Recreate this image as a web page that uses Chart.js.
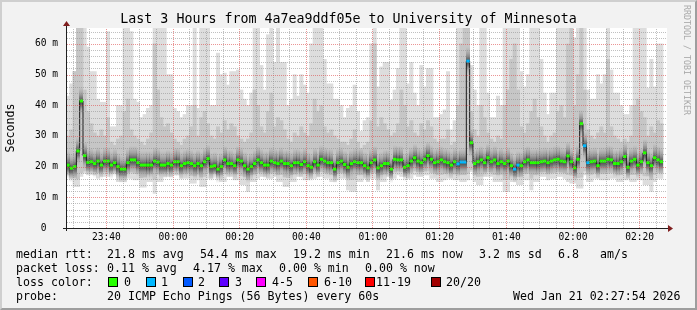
<!DOCTYPE html>
<html>
<head>
<meta charset="utf-8">
<title>Smokeping - Last 3 Hours</title>
<script src="https://cdn.jsdelivr.net/npm/chart.js@4.4.1/dist/chart.umd.min.js"></script>
<style>
  html, body { margin: 0; padding: 0; background: #f2f2f2; }
  #wrap { position: relative; width: 697px; height: 310px; overflow: hidden; font-family: 'DejaVu Sans Mono', monospace; color: #000; }
  #wrap canvas { position: absolute; left: 0; top: 0; }
  #title { position: absolute; left: 0; top: 11px; width: 697px; text-align: center; font-size: 13.3px; line-height: 16px; white-space: pre; }
  #credit { position: absolute; left: 692px; top: 5px; font-size: 8.3px; line-height: 10px; color: #a8a8a8; white-space: pre; transform-origin: 0 0; transform: rotate(90deg); }
  .txt { position: absolute; font-size: 11.6px; line-height: 14px; white-space: pre; }
  .sw { position: absolute; width: 8px; height: 8px; border: 1px solid #000; }
  #frame { position: absolute; left: 0; top: 0; width: 697px; height: 310px; box-sizing: border-box; border: 2px solid; border-color: #cfcfcf #9e9e9e #9e9e9e #cfcfcf; pointer-events: none; }
</style>
</head>
<body>
<div id="wrap">
  <canvas id="smokeChart" width="697" height="310"></canvas>
  <div id="title">Last 3 Hours from 4a7ea9ddf05e to University of Minnesota</div>
  <div id="credit">RRDTOOL / TOBI OETIKER</div>
  <div id="legend"></div>
  <div id="frame"></div>
</div>
<script>
// time axis in minutes relative to midnight (negative = previous day)
const windowStart = -32.1;   // 23:27:54
const windowEnd = 147.9;     // 02:27:54
const firstSample = -32;     // first 60 s sample starts 23:28

// median rtt per minute (ms)
const median = [
  20.5, 19.5, 20.0, 25.1, 41.4, 23.6, 21.4, 21.6, 21.0, 21.8,
  20.5, 21.8, 21.8, 20.5, 21.3, 20.0, 19.2, 19.2, 21.3, 22.2,
  22.2, 21.3, 20.5, 20.5, 20.5, 20.5, 21.8, 21.5, 20.5, 20.5,
  21.0, 20.5, 21.6, 21.6, 20.3, 21.0, 21.3, 21.0, 20.3, 21.0,
  20.3, 21.6, 22.6, 20.0, 20.3, 19.2, 20.0, 22.2, 21.0, 21.0,
  20.3, 22.2, 21.8, 20.3, 19.2, 20.0, 21.0, 22.2, 21.3, 20.5,
  20.5, 21.8, 21.3, 21.0, 21.8, 21.0, 21.0, 20.3, 21.3, 21.3,
  20.7, 21.6, 20.3, 19.8, 21.6, 20.5, 22.4, 21.8, 21.3, 21.3,
  19.2, 21.3, 21.8, 20.7, 19.8, 21.0, 21.6, 21.3, 21.3, 20.3,
  19.6, 21.3, 22.2, 19.6, 20.3, 21.0, 21.0, 19.2, 22.4, 22.2,
  22.2, 19.8, 20.3, 21.8, 22.9, 21.8, 21.3, 22.4, 23.6, 22.4,
  21.3, 21.6, 22.2, 21.6, 21.3, 20.5, 21.6, 20.9, 21.5, 21.5,
  54.4, 27.8, 21.0, 21.6, 22.2, 21.3, 22.9, 21.6, 22.2, 21.0,
  21.6, 21.0, 21.8, 20.3, 19.2, 20.5, 20.3, 21.6, 22.2, 21.3,
  21.3, 21.3, 21.6, 21.8, 21.3, 21.8, 22.2, 22.4, 21.8, 21.6,
  23.5, 21.6, 19.6, 22.4, 34.0, 26.8, 21.3, 21.6, 21.8, 20.3,
  21.8, 21.8, 22.4, 22.2, 21.0, 21.0, 21.6, 23.3, 19.8, 21.8,
  22.4, 20.5, 21.6, 24.5, 21.3, 20.3, 22.9, 22.2, 21.6
];

// slowest ping per minute (70 = off the top of the graph)
const pingMax = [
  43, 47, 51, 70, 70, 70, 59, 51, 51, 42,
  41, 41, 64, 33, 33, 40, 40, 70, 70, 64,
  42, 41, 36, 37, 39, 40, 70, 70, 70, 70,
  50, 50, 39, 38, 36, 37, 40, 40, 70, 39,
  70, 70, 70, 40, 40, 57, 50, 50.5, 46.6, 51,
  51, 51.5, 45, 42, 40, 44, 70, 70, 53, 45,
  63, 70, 54, 70, 54, 54, 40, 42, 50, 43,
  50, 46.6, 44, 60, 70, 70, 70, 55, 47, 47,
  42, 42, 40, 36, 39, 40, 46.6, 38, 31.5, 35,
  36, 60, 70, 46, 52.5, 54, 54, 41.7, 45, 52,
  70, 70, 47, 54, 44, 40, 53, 46, 52, 52,
  36, 36, 37, 38.5, 51, 32, 35, 70, 70, 70,
  70, 53, 45, 40, 70, 70, 44, 36, 36, 43,
  40, 70, 70, 70, 70, 70, 51, 46, 50, 70,
  70, 70, 55, 44, 37, 44, 44, 70, 70, 70,
  70, 70, 62, 70, 70, 70, 45, 42, 42, 50,
  47, 50, 70, 51.5, 44, 44, 40, 37, 37, 40,
  70, 70, 70, 70, 45.6, 55, 46, 60, 60
];

// upper edge of the denser smoke
const pingHigh = [
  30, 32, 51, 70, 70, 45, 38, 34, 31, 30,
  32, 30, 36, 28, 27, 29, 30, 38, 42, 32,
  30, 29, 28, 27, 29, 31, 60, 45, 36, 33,
  34, 31, 29, 28, 27, 29, 30, 33, 40, 30,
  36, 38, 34, 30, 29, 33, 31, 35, 32, 34,
  33, 30, 29, 28, 29, 31, 45, 40, 33, 31,
  38, 44, 33, 36, 35, 32, 29, 28, 31, 30,
  33, 31, 30, 34, 42, 38, 40, 33, 31, 32,
  30, 29, 28, 28, 27, 29, 32, 28, 26, 27,
  28, 35, 60, 33, 36, 34, 32, 30, 31, 34,
  45, 40, 33, 35, 31, 30, 34, 32, 35, 33,
  29, 28, 29, 29, 32, 27, 28, 40, 60, 70,
  70, 38, 32, 30, 40, 36, 31, 29, 28, 30,
  29, 40, 45, 55, 60, 45, 33, 31, 34, 38,
  42, 36, 33, 30, 28, 30, 31, 38, 40, 36,
  60, 70, 40, 50, 70, 45, 32, 30, 29, 31,
  33, 31, 55, 33, 30, 29, 28, 29, 28, 30,
  40, 42, 38, 36, 30, 33, 31, 35, 34
];

// lower edge of the denser smoke
const pingLow = [
  18.2, 17.8, 16.5, 16.0, 18.0, 18.6, 18.8, 18.6, 18.4, 18.0,
  18.2, 18.3, 18.2, 18.8, 18.8, 17.6, 17.2, 17.0, 18.0, 18.2,
  17.8, 17.8, 16.4, 16.6, 17.6, 17.8, 15.8, 17.6, 17.8, 18.2,
  18.4, 18.2, 18.6, 18.6, 17.8, 17.9, 18.0, 17.2, 17.0, 17.6,
  16.6, 16.8, 18.0, 17.8, 18.6, 18.4, 17.4, 17.6, 18.2, 18.2,
  17.8, 17.6, 17.0, 16.8, 15.8, 17.4, 17.6, 18.0, 18.3, 18.2,
  18.0, 17.9, 18.3, 17.4, 17.4, 16.6, 16.4, 17.4, 17.6, 18.2,
  18.2, 17.8, 17.8, 18.0, 18.2, 18.3, 18.4, 18.0, 18.0, 17.4,
  17.2, 17.8, 18.0, 18.0, 16.2, 15.8, 16.0, 17.4, 17.4, 18.0,
  17.4, 18.0, 18.0, 16.2, 17.4, 17.6, 18.3, 17.8, 18.2, 18.6,
  18.4, 18.2, 18.0, 18.1, 18.6, 18.4, 18.3, 18.6, 18.6, 18.0,
  17.9, 17.4, 17.4, 17.8, 18.0, 18.0, 17.6, 17.6, 17.4, 17.4,
  17.8, 19.0, 17.4, 16.8, 16.9, 18.2, 18.3, 18.2, 17.4, 17.4,
  17.5, 15.8, 15.9, 17.2, 17.0, 16.8, 16.9, 17.8, 17.8, 16.2,
  17.4, 17.5, 18.3, 18.4, 17.8, 18.0, 18.0, 18.3, 18.2, 18.0,
  17.4, 17.2, 17.0, 16.4, 16.6, 18.6, 17.6, 17.5, 18.0, 18.0,
  17.8, 17.8, 17.8, 18.0, 18.1, 17.5, 17.4, 17.8, 18.0, 17.4,
  17.4, 17.8, 17.8, 17.0, 17.0, 15.8, 17.4, 18.0, 18.0
];

// fastest ping per minute
const pingMin = [
  17.3, 16.2, 13.5, 13.5, 16.8, 17.9, 17.5, 17.5, 17.3, 16.2,
  16.8, 16.8, 16.8, 17.9, 17.9, 15.1, 15.1, 15.1, 16.2, 16.2,
  15.7, 15.7, 13.3, 13.3, 15.1, 15.1, 11.3, 15.1, 15.1, 16.8,
  16.8, 16.8, 17.3, 17.3, 16.2, 16.2, 16.2, 14.6, 14.6, 15.7,
  13.5, 13.5, 16.2, 16.2, 17.9, 17.9, 15.1, 15.1, 16.8, 16.8,
  15.7, 15.7, 14.1, 14.1, 11.9, 15.1, 15.1, 16.2, 16.8, 16.8,
  16.2, 16.2, 16.8, 15.1, 15.1, 13.5, 13.5, 15.1, 15.1, 16.8,
  16.8, 15.7, 15.7, 16.2, 16.2, 16.8, 16.8, 16.2, 16.2, 15.1,
  15.1, 15.7, 16.2, 16.2, 12.4, 11.9, 11.9, 15.1, 15.1, 16.2,
  15.1, 16.2, 16.2, 12.4, 15.1, 15.1, 16.8, 16.2, 16.2, 17.3,
  16.8, 16.8, 16.2, 16.2, 17.3, 16.8, 16.8, 17.3, 17.3, 16.2,
  16.2, 15.1, 15.1, 15.7, 16.2, 16.2, 15.7, 15.7, 15.1, 15.1,
  15.7, 18.4, 15.1, 14.1, 14.1, 16.8, 16.8, 16.8, 15.1, 15.1,
  15.1, 11.9, 11.9, 15.1, 15.1, 14.1, 14.1, 15.7, 15.7, 12.4,
  15.1, 15.1, 16.8, 16.8, 15.7, 16.2, 16.2, 16.8, 16.8, 16.2,
  15.1, 14.6, 14.6, 13.0, 13.0, 17.3, 15.1, 15.1, 16.2, 16.2,
  15.7, 15.7, 15.7, 16.2, 16.2, 15.1, 15.1, 15.7, 16.2, 15.1,
  15.1, 15.7, 15.7, 14.1, 14.1, 11.9, 15.1, 16.2, 16.2
];

// samples where 1 of 20 pings was lost
const lossSamples = [117, 118, 119, 120, 134, 135, 155, 156];

const lossLabels = ['0', '1', '2', '3', '4-5', '6-10', '11-19', '20/20'];
const lossColors = ['#26ff00', '#00b8ff', '#0059ff', '#5e00ff', '#ff00ff', '#ff5500', '#ff0000', '#a10000'];

const xLabelMinutes = [-20, 0, 20, 40, 60, 80, 100, 120, 140];
const xLabels = ['23:40', '00:00', '00:20', '00:40', '01:00', '01:20', '01:40', '02:00', '02:20'];
const yLabelValues = [0, 10, 20, 30, 40, 50, 60];
const yLabels = ['0  ', '10 m', '20 m', '30 m', '40 m', '50 m', '60 m'];

// legend rows: [text, x]
const legendRows = [
  [['median rtt:', 16], ['21.8 ms avg', 107], ['54.4 ms max', 200], ['19.2 ms min', 293], ['21.6 ms now', 386], ['3.2 ms sd', 479], ['6.8', 558], ['am/s', 600]],
  [['packet loss:', 16], ['0.11 % avg', 107], ['4.17 % max', 193], ['0.00 % min', 279], ['0.00 % now', 365]],
  [['loss color:', 16]],
  [['probe:', 16], ['20 ICMP Echo Pings (56 Bytes) every 60s', 107], ['Wed Jan 21 02:27:54 2026', 513]]
];
const swatchX = [108, 146, 183, 219, 256, 308, 365, 431];
const swatchLabelX = [124, 161, 198, 235, 272, 324, 376, 446];

// build legend
const legendEl = document.getElementById('legend');
legendRows.forEach((row, r) => {
  row.forEach(([text, x]) => {
    const d = document.createElement('div');
    d.className = 'txt';
    d.style.left = x + 'px';
    d.style.top = (247 + r * 14) + 'px';
    d.textContent = text;
    legendEl.appendChild(d);
  });
});
lossLabels.forEach((lbl, k) => {
  const s = document.createElement('div');
  s.className = 'sw';
  s.style.left = swatchX[k] + 'px';
  s.style.top = '277px';
  s.style.background = lossColors[k];
  legendEl.appendChild(s);
  const t = document.createElement('div');
  t.className = 'txt';
  t.style.left = swatchLabelX[k] + 'px';
  t.style.top = '275px';
  t.textContent = lbl;
  legendEl.appendChild(t);
});

// sample centres on the time axis
const xs = median.map((_, i) => firstSample + i + 0.5);
const medianPts = xs.map((x, i) => ({ x, y: median[i] }));
const markColors = median.map((_, i) => lossSamples.includes(i) ? lossColors[1] : lossColors[0]);

// dark smoke core drawn around each median
const core = document.createElement('canvas');
core.width = 4; core.height = 28;
const cctx = core.getContext('2d');
const grad = cctx.createLinearGradient(0, 0, 0, 28);
grad.addColorStop(0, 'rgba(130,130,130,0)');
grad.addColorStop(0.22, 'rgba(120,120,120,0.4)');
grad.addColorStop(0.42, 'rgba(70,70,70,0.72)');
grad.addColorStop(0.52, 'rgba(50,50,50,0.85)');
grad.addColorStop(0.66, 'rgba(80,80,80,0.68)');
grad.addColorStop(0.82, 'rgba(130,130,130,0.35)');
grad.addColorStop(1, 'rgba(150,150,150,0)');
cctx.fillStyle = grad;
cctx.fillRect(0, 0, 4, 28);

const majorGrid = 'rgba(222,79,79,0.6)';
const minorGrid = 'rgba(140,140,140,0.55)';

// rrdtool style frame, dotted grid and arrowed axes
const rrdFrame = {
  id: 'rrdFrame',
  beforeDraw(chart) {
    const { ctx, chartArea: a } = chart;
    ctx.save();
    ctx.fillStyle = '#f2f2f2';
    ctx.fillRect(0, 0, chart.width, chart.height);
    ctx.fillStyle = '#ffffff';
    ctx.fillRect(a.left, a.top, a.right - a.left + 1, a.bottom - a.top);
    ctx.restore();
  },
  afterDatasetsDraw(chart) {
    const { ctx, chartArea: a, scales } = chart;
    ctx.save();
    scales.x.ticks.forEach(t => {
      const px = Math.floor(scales.x.getPixelForValue(t.value));
      ctx.fillStyle = t.value % 20 === 0 ? majorGrid : minorGrid;
      for (let y = a.top + 1; y < a.bottom; y += 2) ctx.fillRect(px, y, 1, 1);
    });
    scales.y.ticks.forEach(t => {
      if (t.value === 0) return;
      const py = Math.round(scales.y.getPixelForValue(t.value));
      ctx.fillStyle = t.value % 10 === 0 ? majorGrid : minorGrid;
      for (let x = a.left + 1; x < a.right; x += 2) ctx.fillRect(x, py, 1, 1);
    });
    ctx.restore();
  },
  afterDraw(chart) {
    const { ctx, chartArea: a } = chart;
    ctx.save();
    ctx.strokeStyle = '#1f1f1f';
    ctx.lineWidth = 1;
    ctx.beginPath();
    ctx.moveTo(a.left - 3, a.bottom + 0.5);
    ctx.lineTo(a.right + 3, a.bottom + 0.5);
    ctx.moveTo(a.left + 0.5, a.bottom + 3);
    ctx.lineTo(a.left + 0.5, a.top - 3);
    ctx.stroke();
    ctx.fillStyle = '#801f1f';
    ctx.beginPath();
    ctx.moveTo(a.right + 2, a.bottom - 3);
    ctx.lineTo(a.right + 7, a.bottom + 0.5);
    ctx.lineTo(a.right + 2, a.bottom + 4);
    ctx.fill();
    ctx.beginPath();
    ctx.moveTo(a.left - 3, a.top - 2);
    ctx.lineTo(a.left + 0.5, a.top - 7);
    ctx.lineTo(a.left + 4, a.top - 2);
    ctx.fill();
    ctx.restore();
  }
};

Chart.defaults.font.family = "'DejaVu Sans Mono', monospace";
Chart.defaults.color = '#000';

new Chart(document.getElementById('smokeChart').getContext('2d'), {
  type: 'bar',
  data: {
    datasets: [
      {
        type: 'bar',
        data: xs.map((x, i) => ({ x, y: [pingMin[i], pingMax[i]] })),
        backgroundColor: '#dddddd',
        grouped: false,
        barPercentage: 1,
        categoryPercentage: 1,
        order: 6
      },
      {
        type: 'bar',
        data: xs.map((x, i) => ({ x, y: [pingLow[i], pingHigh[i]] })),
        backgroundColor: '#c6c6c6',
        grouped: false,
        barPercentage: 1,
        categoryPercentage: 1,
        order: 5
      },
      {
        type: 'line',
        data: medianPts,
        showLine: false,
        pointStyle: core,
        pointRadius: 2,
        order: 4
      },
      {
        type: 'line',
        data: medianPts,
        stepped: 'middle',
        borderColor: '#1c1c1c',
        borderWidth: 1,
        pointRadius: 0,
        order: 3
      },
      {
        type: 'line',
        data: medianPts,
        showLine: false,
        pointStyle: 'line',
        pointRadius: 1.7,
        pointBorderWidth: 3,
        pointBorderColor: markColors,
        order: 2
      }
    ]
  },
  options: {
    responsive: false,
    animation: false,
    events: [],
    layout: { padding: { left: 0, top: 28, right: 31, bottom: 0 } },
    plugins: {
      legend: { display: false },
      tooltip: { enabled: false }
    },
    scales: {
      x: {
        type: 'linear',
        min: windowStart,
        max: windowEnd,
        offset: false,
        afterBuildTicks: scale => {
          const ticks = [];
          for (let m = -30; m <= windowEnd; m += 5) ticks.push({ value: m });
          scale.ticks = ticks;
        },
        afterFit: scale => { scale.height = 82; },
        ticks: {
          autoSkip: false,
          maxRotation: 0,
          padding: 4,
          font: { size: 9.6 },
          callback: value => {
            const k = xLabelMinutes.indexOf(value);
            return k >= 0 ? xLabels[k] : '';
          }
        },
        grid: { display: false, offset: false, drawTicks: false },
        border: { display: false }
      },
      y: {
        min: 0,
        max: 65.2,
        afterBuildTicks: scale => {
          const ticks = [];
          for (let v = 0; v <= 64; v += 2) ticks.push({ value: v });
          scale.ticks = ticks;
        },
        afterFit: scale => { scale.width = 66; },
        ticks: {
          autoSkip: false,
          padding: 8,
          font: { size: 9.6 },
          callback: value => {
            const k = yLabelValues.indexOf(value);
            return k >= 0 ? yLabels[k] : '';
          }
        },
        grid: { display: false, drawTicks: false },
        border: { display: false },
        title: {
          display: true,
          text: 'Seconds',
          font: { size: 11.6 },
          padding: { top: 4, bottom: 0 }
        }
      }
    }
  },
  plugins: [rrdFrame]
});
</script>
</body>
</html>
